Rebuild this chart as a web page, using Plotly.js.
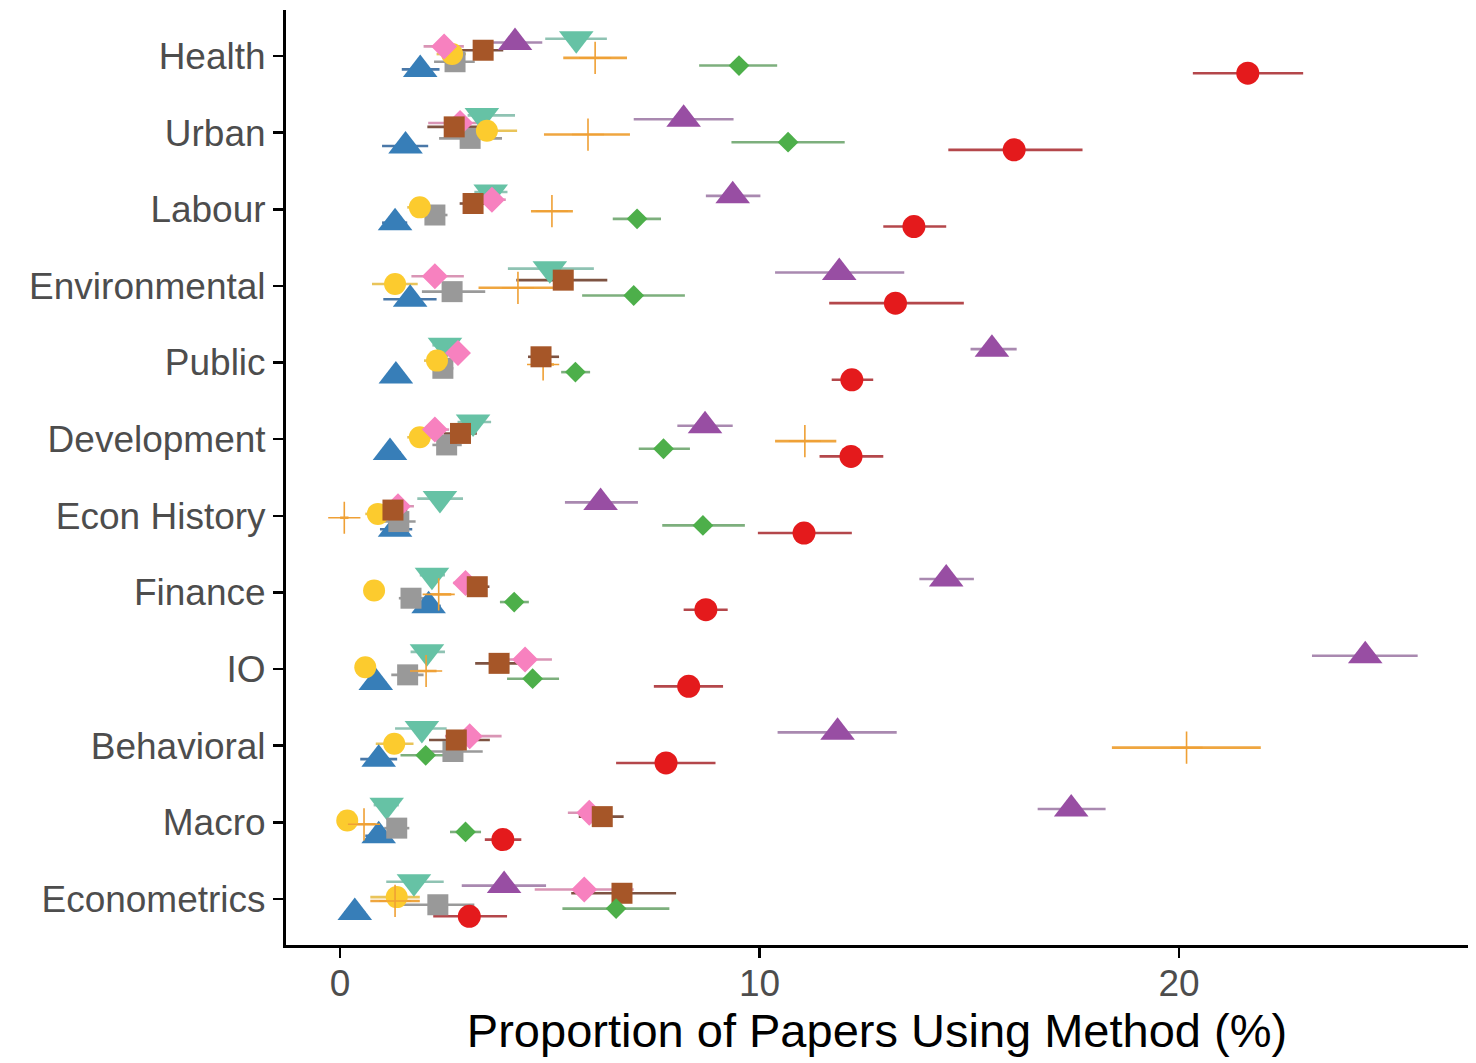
<!DOCTYPE html>
<html>
<head>
<meta charset="utf-8">
<script src="https://cdn.plot.ly/plotly-3.0.1.min.js"></script>
<style>
html,body{margin:0;padding:0;background:#ffffff;}
#chart{width:1476px;height:1063px;}
</style>
</head>
<body>
<div id="chart"></div>
<script>
// ---------------- DATA ----------------
const categories = ['Health','Urban','Labour','Environmental','Public','Development','Econ History','Finance','IO','Behavioral','Macro','Econometrics'];
const xTicks = [0, 10, 20];

// Red circles
const redMean = [21.64, 16.07, 13.68, 13.24, 12.20, 12.18, 11.06, 8.72, 8.31, 7.77, 3.88, 3.08];
const redLo   = [20.33, 14.50, 12.95, 11.66, 11.72, 11.43,  9.96, 8.19, 7.48, 6.58, 3.45, 2.22];
const redHi   = [22.96, 17.70, 14.45, 14.87, 12.71, 12.95, 12.20, 9.24, 9.13, 8.95, 4.32, 3.98];

// Purple triangles
const purpleMean = [4.17, 8.19, 9.36, 11.90, 15.54, 8.70, 6.21, 14.45, 24.44, 11.86, 17.43, 3.91];
const purpleLo   = [3.60, 7.00, 8.72, 10.37, 15.03, 8.04, 5.36, 13.81, 23.17, 10.43, 16.63, 2.90];
const purpleHi   = [4.82, 9.38, 10.02, 13.45, 16.13, 9.36, 7.10, 15.11, 25.69, 13.27, 18.25, 4.91];

// Green diamonds
const greenMean = [9.51, 10.68, 7.08, 7.00, 5.61, 7.71, 8.65, 4.15, 4.59, 2.04, 2.99, 6.58];
const greenLo   = [8.56,  9.33, 6.50, 5.77, 5.27, 7.12, 7.68, 3.81, 3.98, 1.44, 2.62, 5.30];
const greenHi   = [10.42, 12.03, 7.65, 8.22, 5.96, 8.34, 9.65, 4.50, 5.22, 2.67, 3.36, 7.85];

// Orange plus
const orangeMean = [6.08, 5.91, 5.05, 4.24, 4.84, 11.08, 0.10, 2.35, 2.05, 20.18, 0.57, 1.31];
const orangeLo   = [5.32, 4.86, 4.55, 3.30, 4.60, 10.37, 0.00, 2.10, 1.75, 18.40, 0.30, 0.72];
const orangeHi   = [6.84, 6.91, 5.55, 5.20, 5.10, 11.83, 0.20, 2.65, 2.30, 21.95, 0.85, 1.90];

// Brown squares
const brownMean = [3.41, 2.72, 3.17, 5.32, 4.79, 2.87, 1.26, 3.27, 3.79, 2.77, 6.25, 6.72];
const brownLo   = [2.90, 2.08, 2.85, 4.20, 4.48, 2.47, 0.95, 2.93, 3.22, 2.12, 5.69, 5.51];
const brownHi   = [3.89, 3.54, 3.50, 6.37, 5.22, 3.26, 1.60, 3.56, 4.27, 3.57, 6.76, 8.01];

// Pink diamonds
const pinkMean = [2.48, 2.86, 3.62, 2.26, 2.81, 2.26, 1.38, 2.99, 4.41, 3.09, 5.94, 5.82];
const pinkLo   = [1.99, 2.10, 3.30, 1.70, 2.55, 1.95, 0.94, 2.70, 3.81, 2.50, 5.43, 4.64];
const pinkHi   = [2.95, 3.50, 3.95, 2.95, 3.05, 2.60, 1.76, 3.30, 5.05, 3.85, 6.40, 7.00];

// Teal down-triangles
const tealMean = [5.63, 3.38, 3.59, 5.00, 2.50, 3.17, 2.38, 2.19, 2.07, 1.95, 1.11, 1.76];
const tealLo   = [4.89, 3.04, 3.20, 4.00, 2.20, 2.80, 1.84, 1.90, 1.68, 1.31, 0.80, 1.10];
const tealHi   = [6.36, 4.17, 3.99, 6.05, 2.80, 3.60, 2.93, 2.50, 2.50, 2.54, 1.40, 2.47];

// Yellow circles
const yellowMean = [2.67, 3.50, 1.90, 1.31, 2.31, 1.90, 0.90, 0.81, 0.60, 1.29, 0.17, 1.35];
const yellowLo   = [2.30, 2.90, 1.60, 0.76, 2.00, 1.60, 0.60, 0.60, 0.40, 0.85, 0.00, 0.72];
const yellowHi   = [3.00, 4.22, 2.20, 1.85, 2.60, 2.20, 1.20, 1.00, 0.80, 1.75, 0.35, 1.90];

// Gray squares
const grayMean = [2.74, 3.10, 2.26, 2.67, 2.45, 2.54, 1.40, 1.69, 1.61, 2.69, 1.35, 2.33];
const grayLo   = [2.24, 2.36, 1.90, 1.95, 2.20, 2.20, 1.00, 1.40, 1.22, 2.00, 1.05, 1.50];
const grayHi   = [3.21, 3.86, 2.56, 3.46, 2.70, 2.90, 1.80, 2.00, 1.99, 3.40, 1.65, 3.20];

// Blue triangles
const blueMean = [1.91, 1.56, 1.31, 1.67, 1.33, 1.19, 1.31, 2.11, 0.85, 0.92, 0.92, 0.35];
const blueLo   = [1.47, 1.00, 1.00, 1.03, 1.10, 0.95, 0.95, 1.85, 0.60, 0.48, 0.60, 0.10];
const blueHi   = [2.37, 2.10, 1.60, 2.30, 1.55, 1.45, 1.72, 2.40, 1.10, 1.36, 1.25, 0.60];

// ---------------- STYLE ----------------
const series = [
  {name:'A', mean:redMean,    lo:redLo,    hi:redHi,    symbol:'circle',        color:'#E41A1C', err:'#B4474B', size:23, dodge:-0.225},
  {name:'B', mean:blueMean,   lo:blueLo,   hi:blueHi,   symbol:'triangle-up',   color:'#377EB8', err:'#4A78A8', size:30, dodge:-0.175},
  {name:'C', mean:greenMean,  lo:greenLo,  hi:greenHi,  symbol:'diamond',       color:'#4DAF4A', err:'#7DAF7D', size:16, dodge:-0.125},
  {name:'D', mean:grayMean,   lo:grayLo,   hi:grayHi,   symbol:'square',        color:'#999999', err:'#9A9A9A', size:21, dodge:-0.075},
  {name:'E', mean:orangeMean, lo:orangeLo, hi:orangeHi, symbol:'cross-thin',    color:'#EFA035', err:'#EFA640', size:23, dodge:-0.025},
  {name:'F', mean:yellowMean, lo:yellowLo, hi:yellowHi, symbol:'circle',        color:'#FCCB2E', err:'#E9C45A', size:22, dodge: 0.025},
  {name:'G', mean:brownMean,  lo:brownLo,  hi:brownHi,  symbol:'square',        color:'#A65628', err:'#7E5342', size:21, dodge: 0.075},
  {name:'H', mean:pinkMean,   lo:pinkLo,   hi:pinkHi,   symbol:'diamond',       color:'#F781BF', err:'#D995B5', size:20, dodge: 0.125},
  {name:'I', mean:purpleMean, lo:purpleLo, hi:purpleHi, symbol:'triangle-up',   color:'#984EA3', err:'#A989B0', size:30, dodge: 0.175},
  {name:'J', mean:tealMean,   lo:tealLo,   hi:tealHi,   symbol:'triangle-down', color:'#66C2A5', err:'#8FC3B3', size:30, dodge: 0.225}
];
const markerOrder = [1, 9, 3, 5, 4, 7, 6, 2, 8, 0];

const nCat = categories.length;
const catPos = categories.map((c, i) => nCat - i);

const traces = [];
// error bars first (below all markers)
series.forEach(s => {
  traces.push({
    type:'scatter', mode:'markers', name:s.name, showlegend:false, hoverinfo:'skip',
    x: s.mean, y: catPos.map(p => p + s.dodge),
    marker:{size:1, color:'rgba(0,0,0,0)'},
    error_x:{type:'data', symmetric:false,
      array: s.hi.map((h, i) => h - s.mean[i]),
      arrayminus: s.lo.map((l, i) => s.mean[i] - l),
      color:s.err, thickness:2.6, width:0}
  });
});
markerOrder.forEach(k => {
  const s = series[k];
  const isCross = s.symbol === 'cross-thin';
  traces.push({
    type:'scatter', mode:'markers', name:s.name, showlegend:false,
    x: s.mean, y: catPos.map(p => p + s.dodge),
    text: categories,
    marker: isCross
      ? {symbol:s.symbol, size:s.size, color:s.color, line:{color:s.color, width:1.6}}
      : {symbol:s.symbol, size:s.size, color:s.color, line:{width:0}}
  });
});

const layout = {
  width:1476, height:1063,
  margin:{l:286, r:8, t:10, b:118},
  paper_bgcolor:'#ffffff', plot_bgcolor:'#ffffff',
  font:{family:'"Liberation Sans", Arial, sans-serif'},
  showlegend:false,
  xaxis:{
    range:[-1.29, 26.89], tickvals:xTicks, ticktext:xTicks.map(String),
    showgrid:false, zeroline:false,
    showline:true, linecolor:'#000000', linewidth:3,
    ticks:'outside', ticklen:10, tickwidth:2.5, tickcolor:'#000000',
    ticklabelstandoff:-6,
    tickfont:{size:37, color:'#4D4D4D'},
    title:{text:'Proportion of Papers Using Method (%)', font:{size:47, color:'#000000'}, standoff:0}
  },
  yaxis:{
    range:[0.4, 12.6], tickvals:catPos, ticktext:categories,
    showgrid:false, zeroline:false,
    showline:true, linecolor:'#000000', linewidth:3,
    ticks:'outside', ticklen:10, tickwidth:2.5, tickcolor:'#000000',
    tickfont:{size:37, color:'#4D4D4D'}
  }
};

Plotly.newPlot('chart', traces, layout, {displayModeBar:false, staticPlot:true});
</script>
</body>
</html>
